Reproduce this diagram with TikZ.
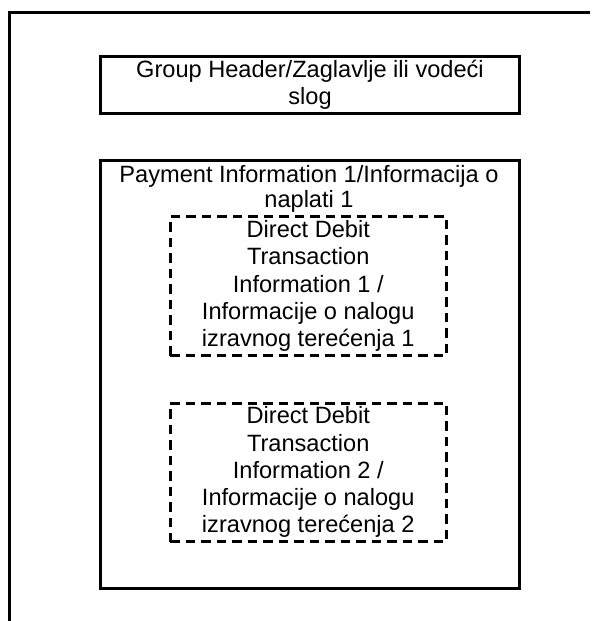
\documentclass[tikz,border=0pt]{standalone}
\usepackage{fontspec}
\setmainfont{Liberation Sans}
\begin{document}
\begin{tikzpicture}[x=1pt,y=-1pt,
  solidbox/.style={draw=black,line width=3pt,rectangle,inner sep=0pt,align=center},
  dashbox/.style={draw=black,line width=3pt,rectangle,inner sep=0pt,align=center,dash pattern=on 9.5pt off 6pt},
  lbl/.style={inner sep=0pt,align=center},
  frameline/.style={draw=black,line width=3pt}]
\useasboundingbox (0,0) rectangle (592,621);
\fontsize{23.6}{27.2}\selectfont
% outer frame (top and left edges)
\coordinate (ftl) at (9.5,12.5);
\coordinate (ftr) at (590,12.5);
\coordinate (fbl) at (9.5,621);
\draw[frameline] (ftr) -- (ftl) -- (fbl);
% group header
\node[solidbox,minimum width=419pt,minimum height=57pt] (gh) at (310,85)
  {Group Header/Zaglavlje ili vodeći\\slog};
% payment information
\node[solidbox,minimum width=419pt,minimum height=428pt] (pi) at (310,374) {};
\node[lbl,anchor=north,font=\fontsize{23.6}{25}\selectfont] (pit) at (309,165.5) {Payment Information 1/Informacija o\\naplati 1};
% transactions
\node[dashbox,minimum width=276.5pt,minimum height=139pt] (dd1) at (308.25,286)
  {Direct Debit\\Transaction\\Information 1 /\\Informacije o nalogu\\izravnog terećenja 1};
\node[dashbox,minimum width=276.5pt,minimum height=138.5pt] (dd2) at (308.25,472.25)
  {Direct Debit\\Transaction\\Information 2 /\\Informacije o nalogu\\izravnog terećenja 2};
\end{tikzpicture}
\end{document}
